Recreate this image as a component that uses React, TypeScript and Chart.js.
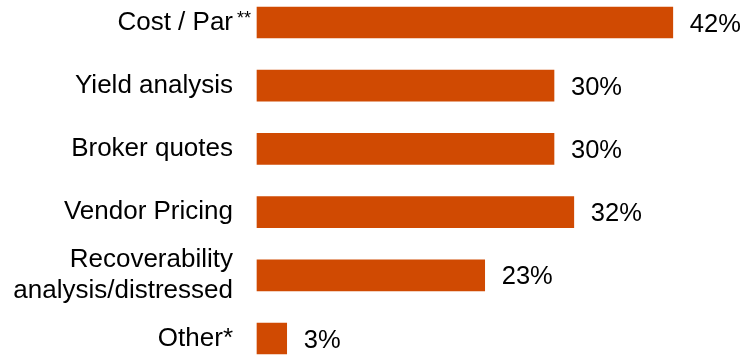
import React, { useEffect, useRef } from "react";
import { Chart, registerables } from "chart.js";

Chart.register(...registerables);

const categories: (string | string[])[] = [
  "Cost / Par",
  "Yield analysis",
  "Broker quotes",
  "Vendor Pricing",
  ["Recoverability", "analysis/distressed"],
  "Other*",
];
const superscripts: string[] = ["**", "", "", "", "", ""];
const values: number[] = [42, 30, 30, 32, 23, 3];
const valueLabels: string[] = ["42%", "30%", "30%", "32%", "23%", "3%"];

const BAR_COLOR = "#D04A02";
const FONT = "Liberation Sans, Arial, sans-serif";

const valueLabelPlugin = {
  id: "valueLabels",
  afterDatasetsDraw(chart: any) {
    const ctx = chart.ctx;
    const meta = chart.getDatasetMeta(0);
    ctx.save();
    ctx.font = `25.5px ${FONT}`;
    ctx.fillStyle = "#000";
    ctx.textAlign = "left";
    ctx.textBaseline = "middle";
    meta.data.forEach((bar: any, i: number) => {
      ctx.fillText(valueLabels[i], bar.x + 17, bar.y + 2);
    });
    ctx.restore();
  },
};

const superscriptPlugin = {
  id: "superscripts",
  afterDraw(chart: any) {
    const ctx = chart.ctx;
    const yScale = chart.scales.y;
    ctx.save();
    ctx.font = `18px ${FONT}`;
    ctx.fillStyle = "#000";
    ctx.textAlign = "left";
    ctx.textBaseline = "alphabetic";
    superscripts.forEach((s, i) => {
      if (!s) return;
      const y = yScale.getPixelForTick(i);
      const x = yScale.right - 24 + 4;
      ctx.fillText(s, x, y + 1);
    });
    ctx.restore();
  },
};

export default function App() {
  const ref = useRef<HTMLCanvasElement | null>(null);
  useEffect(() => {
    if (!ref.current) return;
    const chart = new Chart(ref.current, {
      type: "bar",
      data: {
        labels: categories,
        datasets: [
          {
            data: values,
            backgroundColor: BAR_COLOR,
            borderWidth: 0,
            barThickness: 31,
            clip: false as any,
          },
        ],
      },
      options: {
        indexAxis: "y",
        responsive: false,
        animation: false,
        layout: { padding: { top: 22.5, bottom: 16.5, left: 0, right: 45.5 } },
        plugins: {
          legend: { display: false },
          tooltip: { enabled: false },
        },
        scales: {
          x: {
            display: false,
            min: 0,
            max: 45,
          },
          y: {
            offset: false,
            grid: { display: false, drawTicks: false },
            border: { display: false },
            ticks: {
              padding: 24,
              color: "#000",
              font: { family: FONT, size: 26, lineHeight: 1.16 },
              autoSkip: false,
            },
            afterFit(scale: any) {
              scale.width = 257;
              scale.paddingTop = 0;
              scale.paddingBottom = 0;
            },
          },
        },
      },
      plugins: [valueLabelPlugin, superscriptPlugin],
    });
    return () => chart.destroy();
  }, []);
  return (
    <div style={{ position: "fixed", left: 0, top: 0, width: 748, height: 355, background: "#fff" }}>
      <canvas ref={ref} width={748} height={355} style={{ display: "block" }} />
    </div>
  );
}
